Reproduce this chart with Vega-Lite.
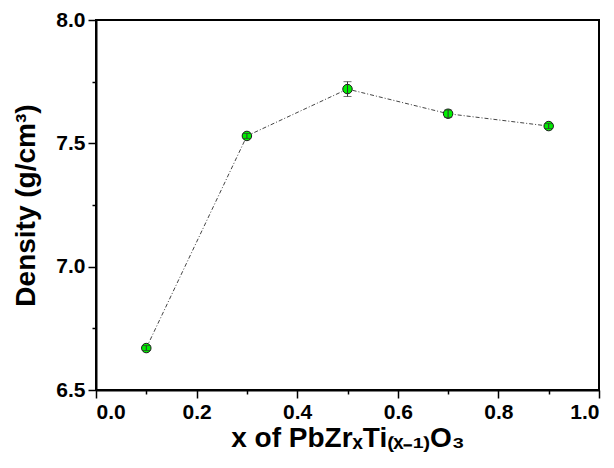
{
  "$schema": "https://vega.github.io/schema/vega-lite/v6.json",
  "width": 503,
  "height": 370,
  "autosize": "none",
  "padding": {"left": 96, "top": 20, "right": 15, "bottom": 78},
  "background": "white",
  "config": {
    "view": {"stroke": "black", "strokeWidth": 2},
    "axis": {
      "grid": false,
      "domainColor": "black",
      "domainWidth": 2,
      "tickColor": "black",
      "tickWidth": 1.5,
      "labelFont": "Liberation Sans",
      "labelFontWeight": "bold",
      "labelFontSize": 21,
      "labelColor": "black",
      "titleFont": "Liberation Sans",
      "titleFontWeight": "bold",
      "titleFontSize": 28,
      "titleColor": "black"
    }
  },
  "data": {
    "values": [
      {"x": 0.1, "density": 6.67, "lo": 6.66, "hi": 6.68},
      {"x": 0.3, "density": 7.53, "lo": 7.52, "hi": 7.54},
      {"x": 0.5, "density": 7.72, "lo": 7.69, "hi": 7.75},
      {"x": 0.7, "density": 7.62, "lo": 7.605, "hi": 7.635},
      {"x": 0.9, "density": 7.57, "lo": 7.56, "hi": 7.58}
    ]
  },
  "layer": [
    {
      "mark": {"type": "line", "color": "#444444", "strokeWidth": 1, "strokeDash": [4, 2, 1, 2]},
      "encoding": {
        "x": {"field": "x", "type": "quantitative", "scale": {"domain": [0, 1], "nice": false},
          "axis": {"values": [0, 0.1, 0.2, 0.3, 0.4, 0.5, 0.6, 0.7, 0.8, 0.9, 1.0],
            "labelExpr": "round(datum.value*10) % 2 === 0 ? format(datum.value, '.1f') : ''",
            "tickSize": {"condition": {"test": "round(datum.value*10) % 2 === 0", "value": 8}, "value": 4},
            "labelPadding": 3, "labelOverlap": false,
            "title": "x of PbZrₓTi₍ₓ₋₁₎O₃", "titlePadding": 2}},
        "y": {"field": "density", "type": "quantitative", "scale": {"domain": [6.5, 8.0], "nice": false, "zero": false},
          "axis": {"values": [6.5, 6.75, 7.0, 7.25, 7.5, 7.75, 8.0],
            "labelExpr": "round(datum.value*4) % 2 === 0 ? format(datum.value, '.1f') : ''",
            "tickSize": {"condition": {"test": "round(datum.value*4) % 2 === 0", "value": 8}, "value": 4},
            "labelPadding": 3, "labelOverlap": false,
            "title": "Density (g/cm³)", "titlePadding": 15}}
      }
    },
    {
      "mark": {"type": "point", "filled": true, "fill": "#00ee00", "stroke": "#1a1a1a", "strokeWidth": 1, "size": 90, "opacity": 1},
      "encoding": {
        "x": {"field": "x", "type": "quantitative"},
        "y": {"field": "density", "type": "quantitative"}
      }
    },
    {
      "mark": {"type": "rule", "color": "#333333", "strokeWidth": 1},
      "encoding": {
        "x": {"field": "x", "type": "quantitative"},
        "y": {"field": "lo", "type": "quantitative"},
        "y2": {"field": "hi"}
      }
    },
    {
      "mark": {"type": "tick", "orient": "horizontal", "color": "#333333", "thickness": 1, "size": 8},
      "encoding": {
        "x": {"field": "x", "type": "quantitative"},
        "y": {"field": "lo", "type": "quantitative"}
      }
    },
    {
      "mark": {"type": "tick", "orient": "horizontal", "color": "#333333", "thickness": 1, "size": 8},
      "encoding": {
        "x": {"field": "x", "type": "quantitative"},
        "y": {"field": "hi", "type": "quantitative"}
      }
    }
  ]
}
